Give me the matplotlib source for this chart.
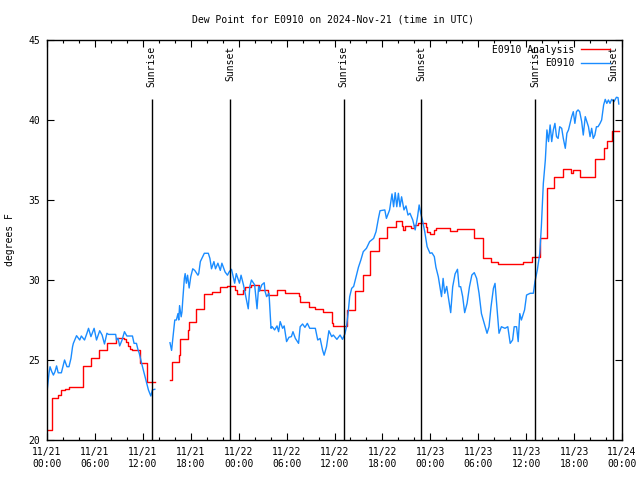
import numpy as np
import pandas as pd
import matplotlib
matplotlib.use("Agg")
import matplotlib.pyplot as plt
import matplotlib.dates as mdates

plt.rcParams['font.family'] = ['DejaVu Sans Mono']
plt.rcParams['font.size'] = 7

start = pd.Timestamp("2024-11-21 00:00")

# hours since 11/21 00:00, nan = no data
analysis_h = [0.0, 0.6, 1.4, 1.7, 2.2, 2.75, 4.55, 5.5, 6.5, 7.5, 8.7, 9.7, 9.9, 10.2, 10.4, 10.7,
              11.65, 12.5, 13.5,
              15.4, 15.6, 16.5, 16.65, 17.65, 17.8, 18.6, 19.6, 20.6, 21.6, 22.5, 23.6, 23.8, 24.6,
              24.8, 25.6, 26.5, 27.7, 28.8, 29.8, 31.5, 31.7, 32.8, 33.6, 34.6, 35.65, 35.8, 37.6,
              38.6, 39.6, 40.5, 41.6, 42.6, 43.7, 44.5, 44.6, 44.8, 45.6, 45.9, 46.5, 47.4, 47.6,
              47.9, 48.5, 48.7, 50.5, 51.4, 53.5, 54.6, 55.6, 56.5, 59.6, 60.7, 61.7, 62.6, 63.5,
              64.65, 65.6, 65.9, 66.7, 68.6, 69.7, 70.1, 70.7, 71.6]
analysis_v = [20.6, 22.6, 22.8, 23.1, 23.2, 23.3, 24.6, 25.1, 25.6, 26.06, 26.4, 26.3, 26.1, 25.9, 25.7, 25.6,
              24.8, 23.65, np.nan,
              23.75, 24.9, 25.3, 26.3, 26.9, 27.4, 28.17, 29.1, 29.23, 29.54, 29.63, 29.4, 29.13, 29.35,
              29.58, 29.69, 29.38, 29.06, 29.38, 29.17, 29.0, 28.65, 28.33, 28.17, 28.02, 27.33, 27.13, 28.13,
              29.3, 30.31, 31.81, 32.6, 33.33, 33.71, 33.4, 33.13, 33.4, 33.23, 33.44, 33.54, 33.3, 33.0,
              32.88, 33.1, 33.23, 33.08, 33.17, 32.6, 31.35, 31.15, 31.0, 31.1, 31.46, 32.6, 35.73, 36.46,
              36.92, 36.71, 36.88, 36.42, 37.54, 38.23, 38.69, 39.33, 39.33]

obs_h = [0.0, 0.25, 0.38, 0.6, 0.8, 1.0, 1.2, 1.4, 1.8, 2.2, 2.5, 2.75, 3.0, 3.2, 3.3, 3.7, 4.1, 4.3,
         4.7, 5.0, 5.2, 5.5, 5.9, 6.2, 6.6, 6.9, 7.2, 7.5, 7.7, 8.6, 8.7, 8.9, 9.1, 9.4, 9.7, 10.0,
         10.7, 10.9, 11.2, 11.4, 11.55, 11.85, 12.27, 12.7, 13.0, 13.2, 13.5, 14.5,
         15.4, 15.6, 15.9, 16.0, 16.2, 16.4, 16.5, 16.6, 16.8, 16.9, 17.0, 17.2, 17.3, 17.45, 17.6,
         17.8, 18.0, 18.25, 18.5, 18.9, 19.0, 19.2, 19.7, 20.2, 20.4, 20.6, 20.9, 21.1, 21.4, 21.7,
         21.9, 22.3, 22.6, 22.8, 23.1, 23.5, 23.7, 23.9, 24.1, 24.3, 24.6, 24.9, 25.2, 25.4, 25.6,
         26.0, 26.3, 26.5, 26.6, 26.9, 27.2, 27.3, 27.5, 27.8, 28.05, 28.2, 28.5, 28.8, 29.0, 29.2,
         29.5, 29.7, 30.0, 30.3, 30.6, 30.8, 31.1, 31.5, 31.7, 32.0, 32.3, 32.6, 32.9, 33.6, 33.9,
         34.2, 34.5, 34.7, 35.0, 35.3, 35.65, 35.85, 36.3, 36.7, 37.0, 37.3, 37.5, 37.7, 37.9, 38.15,
         38.4, 38.7, 39.0, 39.3, 39.6, 40.0, 40.4, 40.9, 41.2, 41.5, 41.7, 42.3, 42.5, 42.9, 43.2,
         43.4, 43.6, 43.8, 44.0, 44.2, 44.4, 44.7, 44.95, 45.2, 45.45, 45.8, 46.1, 46.4, 46.6, 46.8,
         47.05, 47.3, 47.6, 47.96, 48.2, 48.5, 48.7, 49.0, 49.4, 49.6, 49.8, 50.05, 50.25, 50.55,
         50.8, 51.1, 51.4, 51.6, 51.8, 52.05, 52.3, 52.6, 52.9, 53.2, 53.5, 53.8, 54.1, 54.4, 54.8,
         55.1, 55.35, 55.6, 55.9, 56.1, 56.3, 56.6, 56.9, 57.35, 57.7, 58.0, 58.3, 58.5, 58.8, 59.0,
         59.2, 59.4, 59.8, 60.05, 60.5, 60.9, 61.1, 61.4, 61.7, 61.9, 62.15, 62.4, 62.6, 62.8, 63.0,
         63.2, 63.4, 63.6, 63.8, 64.0, 64.2, 64.45, 64.65, 64.9, 65.1, 65.3, 65.5, 65.7, 65.9, 66.1,
         66.3, 66.5, 66.7, 66.95, 67.15, 67.4, 67.6, 67.8, 68.0, 68.2, 68.4, 68.6, 68.8, 69.0, 69.25,
         69.45, 69.7, 69.9, 70.1, 70.3, 70.5, 70.7, 71.0, 71.3, 71.5, 71.6]
obs_v = [23.0, 24.17, 24.58, 24.27, 24.06, 24.27, 24.63, 24.2, 24.2, 25.0, 24.58, 24.58, 25.1, 25.83, 26.04,
         26.52, 26.25, 26.5, 26.25, 26.67, 26.98, 26.46, 26.98, 26.25, 26.83, 26.56, 26.0, 26.67, 26.6,
         26.6, 26.25, 26.35, 25.88, 26.25, 26.77, 26.5, 26.5, 26.04, 26.04, 25.63, 25.42, 24.79, 23.96,
         23.13, 22.75, 23.13, 23.17, np.nan,
         26.08, 25.6, 26.98, 27.5, 27.5, 27.9, 27.5, 28.4, 27.7, 28.0, 28.75, 30.1, 30.4, 29.8, 30.3,
         29.5, 30.2, 30.7, 30.6, 30.3, 30.4, 31.15, 31.67, 31.67, 31.35, 30.7, 31.15, 30.7, 31.05, 30.6,
         31.05, 30.5, 30.3, 30.5, 30.67, 29.8, 30.4, 30.1, 29.8, 30.3, 29.7, 28.96, 28.2, 29.6, 30.0,
         29.7, 28.2, 29.6, 29.3, 29.7, 29.83, 29.3, 28.96, 29.17, 26.98, 27.08, 26.88, 27.13, 26.77, 27.4,
         26.98, 27.13, 26.15, 26.42, 26.46, 26.77, 26.35, 26.04, 27.08, 27.25, 27.04, 27.29, 26.98, 26.98, 26.25,
         26.35, 25.63, 25.3, 25.83, 26.83, 26.46, 26.56, 26.29, 26.56, 26.29, 26.63, 27.08, 27.9, 28.96, 29.48,
         29.6, 30.2, 30.8, 31.25, 31.77, 31.98, 32.4, 32.6, 33.02, 33.85, 34.33, 34.38, 33.85, 34.38, 35.38,
         34.58, 35.46, 34.58, 35.42, 34.58, 35.2, 34.38, 34.63, 34.06, 34.17, 33.75, 33.13, 33.96, 34.69, 34.17,
         33.65, 33.02, 32.08, 31.67, 31.7, 31.46, 30.8, 30.2, 28.96, 30.1, 29.17, 29.6, 28.96, 27.96,
         29.58, 30.38, 30.67, 29.58, 29.58, 28.96, 27.96, 28.54, 29.58, 30.31, 30.46, 30.1, 29.17, 27.9, 27.19,
         26.67, 27.08, 28.33, 29.48, 29.79, 28.54, 26.67, 27.08, 26.98, 27.08, 26.04, 26.25, 27.08, 27.08, 26.15,
         27.9, 27.5, 28.13, 29.06, 29.17, 29.17, 29.9, 30.63, 31.67, 33.33, 36.04, 37.5, 39.38, 38.65, 39.69,
         38.65, 39.38, 39.79, 38.96, 38.85, 39.58, 39.48, 38.85, 38.23, 39.17, 39.38, 39.79, 40.21, 40.52, 39.79,
         40.52, 40.63, 40.52, 39.9, 39.06, 40.21, 39.9, 39.58, 38.96, 39.48, 38.85, 39.06, 39.58, 39.58, 39.79,
         40.0, 40.94, 41.29, 41.04, 41.25, 41.04, 41.29, 41.15, 41.42, 41.4, 41.0]

events = ["2024-11-21 13:07", "2024-11-21 22:57", "2024-11-22 13:08",
          "2024-11-22 22:52", "2024-11-23 13:09", "2024-11-23 22:54"]
event_names = ["Sunrise", "Sunset", "Sunrise", "Sunset", "Sunrise", "Sunset"]

def to_time(h):
    return start + pd.to_timedelta(np.array(h), unit="h")

fig = plt.figure(figsize=(6.4, 4.8), dpi=100)
ax = fig.add_axes([47/640, 40/480, 575/640, 400/480])

ax.plot(to_time(analysis_h), analysis_v, color="#ff0000", lw=1.0, drawstyle="steps-post",
        label="E0910 Analysis")
ax.plot(to_time(obs_h), obs_v, color="#1a8cff", lw=1.0, label="E0910")

for t, name in zip(events, event_names):
    tt = pd.Timestamp(t)
    ax.vlines(tt, 20, 41.3, color="black", lw=1.0)
    ax.text(tt, 44.65, name, rotation=90, ha="center", va="top", fontsize=7)

ax.set_xlim(start, start + pd.Timedelta(hours=72))
ax.set_ylim(20, 45)
ax.set_yticks([20, 25, 30, 35, 40, 45])
ax.xaxis.set_major_locator(mdates.HourLocator(byhour=[0, 6, 12, 18]))
ax.xaxis.set_minor_locator(mdates.HourLocator(interval=2))
ax.xaxis.set_major_formatter(mdates.DateFormatter("%m/%d\n%H:%M"))
ax.tick_params(which="both", direction="in", top=True, right=True, width=0.8, labelsize=7)
ax.tick_params(which="major", length=5, pad=5)
ax.tick_params(which="minor", length=2.5)
for s in ax.spines.values():
    s.set_linewidth(1.0)

ax.legend(loc="upper right", bbox_to_anchor=(0.988, 1.0), frameon=False, markerfirst=False,
          handlelength=3.0, fontsize=7, labelspacing=0.35, borderaxespad=0.1, handletextpad=0.7)

fig.text(0.52, 0.96, "Dew Point for E0910 on 2024-Nov-21 (time in UTC)", ha="center", va="center",
         fontsize=7)
fig.text(0.016, 0.5, "degrees F", rotation=90, ha="center", va="center", fontsize=7)

fig.savefig("out.png", dpi=100)
